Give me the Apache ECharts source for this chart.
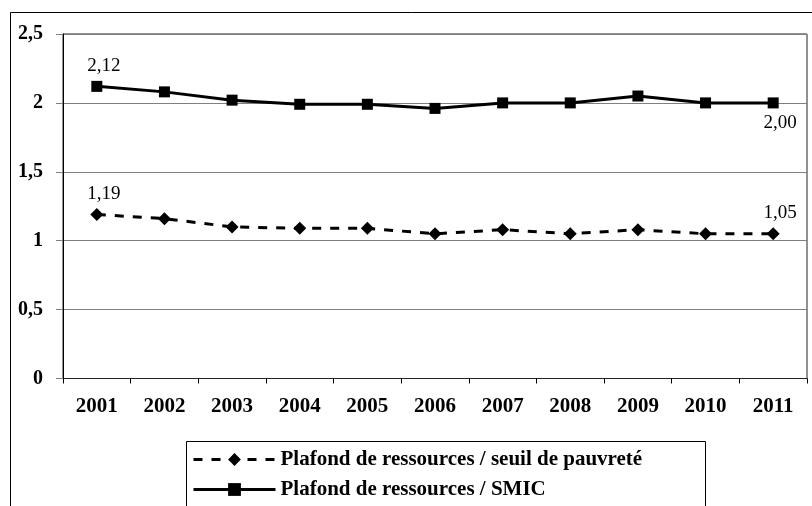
<!DOCTYPE html>
<html>
<head>
<meta charset="utf-8">
<script src="https://cdn.jsdelivr.net/npm/echarts@6/dist/echarts.min.js"></script>
<style>
  html, body { margin: 0; padding: 0; background: #fff; }
  #chart { width: 812px; height: 506px; }
</style>
</head>
<body>
<div id="chart"></div>
<script>
var years = ['2001', '2002', '2003', '2004', '2005', '2006', '2007', '2008', '2009', '2010', '2011'];
var smicName = 'Plafond de ressources / SMIC';
var smicValues = [2.12, 2.08, 2.02, 1.99, 1.99, 1.96, 2.00, 2.00, 2.05, 2.00, 2.00];
var seuilName = 'Plafond de ressources / seuil de pauvreté';
var seuilValues = [1.19, 1.16, 1.10, 1.09, 1.09, 1.05, 1.08, 1.05, 1.08, 1.05, 1.05];

var serif = 'Liberation Serif';

function comma (v, digits) {
  return v.toFixed(digits).replace('.', ',');
}

// only the first and last points carry a value label
function withLabels (values, lastPos) {
  return values.map(function (v, i) {
    if (i === 0) return { value: v, label: { show: true, position: 'top' } };
    if (i === values.length - 1) return { value: v, label: { show: true, position: lastPos } };
    return v;
  });
}

var labelStyle = {
  show: false,
  fontFamily: serif,
  fontSize: 19,
  color: '#000',
  distance: 5,
  offset: [7, 0],
  formatter: function (p) { return comma(p.value, 2); }
};

var chart = echarts.init(document.getElementById('chart'));
chart.setOption({
  animation: false,
  backgroundColor: '#fff',
  graphic: [
    {
      // outer frame
      type: 'rect',
      shape: { x: 10.5, y: 12.5, width: 812, height: 520 },
      style: { fill: 'none', stroke: '#000', lineWidth: 1 },
      silent: true
    },
    {
      // legend frame, runs off the bottom
      type: 'rect',
      shape: { x: 186.5, y: 441.5, width: 519, height: 100 },
      style: { fill: 'none', stroke: '#000', lineWidth: 1 },
      silent: true
    }
  ],
  grid: {
    left: 63, right: 5, top: 34, bottom: 127.5,
    show: true, borderColor: '#222', borderWidth: 1
  },
  legend: {
    orient: 'vertical',
    left: 186,
    top: 449,
    data: [seuilName, smicName],
    itemWidth: 82,
    itemHeight: 16,
    itemGap: 9,
    padding: [0, 0, 0, 6],
    lineStyle: { width: 3 },
    textStyle: { fontFamily: serif, fontWeight: 'bold', fontSize: 21, color: '#000' }
  },
  xAxis: {
    type: 'category',
    data: years,
    boundaryGap: true,
    axisLine: { lineStyle: { color: '#222', width: 1 } },
    axisTick: { show: true, length: 5, lineStyle: { color: '#000' } },
    axisLabel: { margin: 18, fontFamily: serif, fontWeight: 'bold', fontSize: 21, color: '#000' },
    splitLine: { show: false }
  },
  yAxis: {
    type: 'value',
    min: 0,
    max: 2.5,
    interval: 0.5,
    axisLine: { show: true, lineStyle: { color: '#000', width: 1 } },
    axisTick: { show: true, length: 7, lineStyle: { color: '#808080' } },
    axisLabel: {
      margin: 20, fontFamily: serif, fontWeight: 'bold', fontSize: 20, color: '#000',
      formatter: function (v) { return String(v).replace('.', ','); }
    },
    splitLine: { show: true, lineStyle: { color: '#808080', width: 1 } }
  },
  series: [
    {
      name: smicName,
      type: 'line',
      data: withLabels(smicValues, 'bottom'),
      symbol: 'rect',
      symbolSize: 11,
      showAllSymbol: true,
      itemStyle: { color: '#000' },
      lineStyle: { color: '#000', width: 3, type: 'solid' },
      label: labelStyle
    },
    {
      name: seuilName,
      type: 'line',
      data: withLabels(seuilValues, 'top'),
      symbol: 'diamond',
      symbolSize: 13,
      showAllSymbol: true,
      itemStyle: { color: '#000' },
      lineStyle: { color: '#000', width: 3, type: [9, 9] },
      label: labelStyle
    }
  ]
});
</script>
</body>
</html>
